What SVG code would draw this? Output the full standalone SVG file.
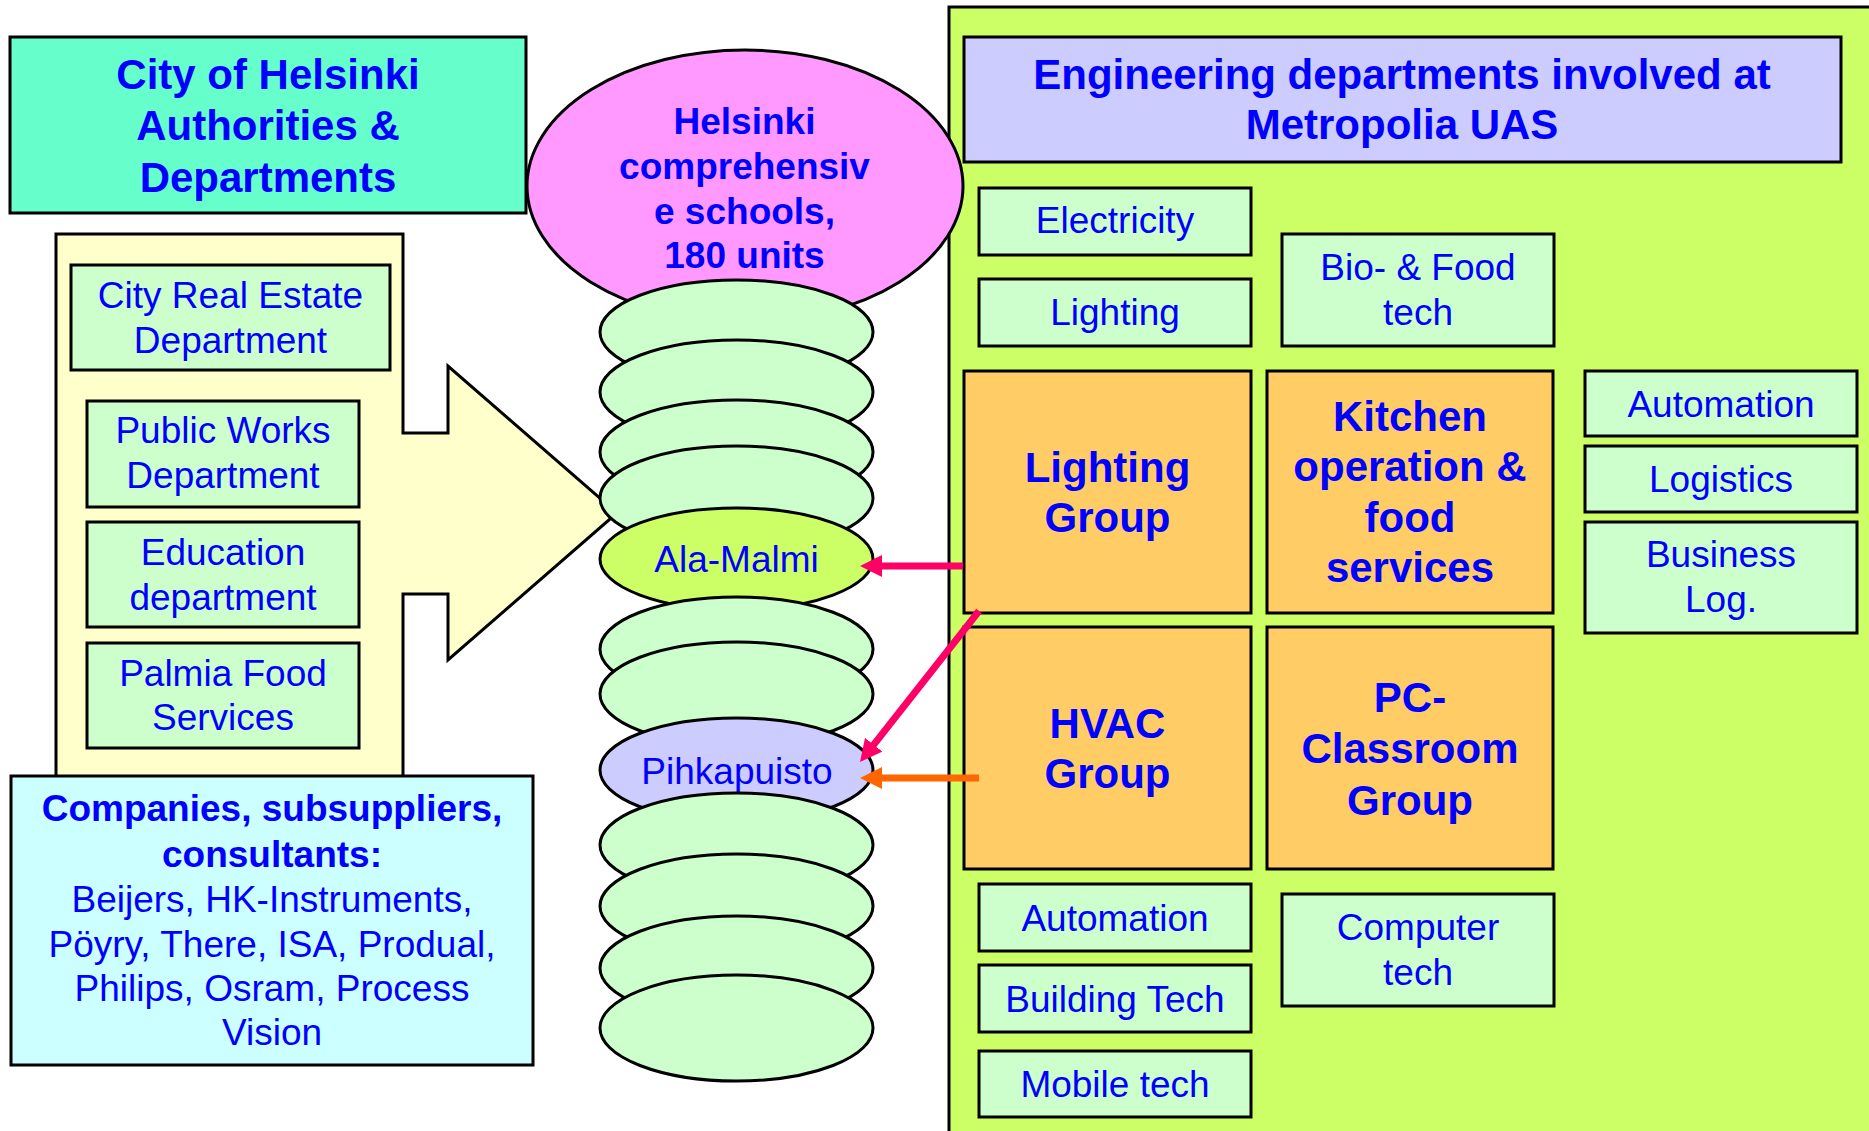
<svg xmlns="http://www.w3.org/2000/svg" width="1869" height="1131" viewBox="0 0 1869 1131">
<style>
.box{stroke:#000;stroke-width:3}
.lt{fill:#CCFFCC}
.or{fill:#FFCC66}
.el{fill:#CCFFCC;stroke:#000;stroke-width:3}
.t{font-family:"Liberation Sans",Arial,sans-serif;fill:#0000FF;text-anchor:middle}
.r{font-size:37px}
.b{font-size:37px;font-weight:bold}
.h{font-size:42px;font-weight:bold}
.conn{fill:none;stroke-width:7}
</style>
<defs>
<marker id="ah-pink" markerUnits="userSpaceOnUse" markerWidth="22" markerHeight="22" viewBox="0 0 22 22" refX="2" refY="11" orient="auto"><path d="M0,0 L22,11 L0,22 z" fill="#FF0066"/></marker>
<marker id="ah-orange" markerUnits="userSpaceOnUse" markerWidth="22" markerHeight="22" viewBox="0 0 22 22" refX="2" refY="11" orient="auto"><path d="M0,0 L22,11 L0,22 z" fill="#FF6600"/></marker>
</defs>
<rect width="1869" height="1131" fill="#fff"/>

<g id="city-arrow">
<polygon points="56,234 403,234 403,433 448,433 448,366 617,513 448,660 448,594 403,594 403,790 56,790" fill="#FFFFCC" stroke="#000" stroke-width="3"/>
</g>

<g id="city-title">
<rect class="box" x="10" y="37" width="516" height="176" fill="#66FFCC"/>
<text class="t h"><tspan x="268" y="89">City of Helsinki</tspan><tspan x="268" y="140">Authorities &amp;</tspan><tspan x="268" y="192">Departments</tspan></text>
</g>

<g id="real-estate">
<rect class="box lt" x="71" y="265" width="319" height="105"/>
<text class="t r"><tspan x="230.5" y="308">City Real Estate</tspan><tspan x="230.5" y="353">Department</tspan></text>
</g>
<g id="public-works">
<rect class="box lt" x="87" y="401" width="272" height="106"/>
<text class="t r"><tspan x="223" y="443">Public Works</tspan><tspan x="223" y="488">Department</tspan></text>
</g>
<g id="education">
<rect class="box lt" x="87" y="522" width="272" height="105"/>
<text class="t r"><tspan x="223" y="565">Education</tspan><tspan x="223" y="610">department</tspan></text>
</g>
<g id="palmia">
<rect class="box lt" x="87" y="643" width="272" height="105"/>
<text class="t r"><tspan x="223" y="686">Palmia Food</tspan><tspan x="223" y="730">Services</tspan></text>
</g>

<g id="companies">
<rect class="box" x="11" y="776" width="522" height="289" fill="#CCFFFF"/>
<text class="t b"><tspan x="272" y="821">Companies, subsuppliers,</tspan><tspan x="272" y="867">consultants:</tspan></text>
<text class="t r"><tspan x="272" y="912">Beijers, HK-Instruments,</tspan><tspan x="272" y="957">Pöyry, There, ISA, Produal,</tspan><tspan x="272" y="1001">Philips, Osram, Process</tspan><tspan x="272" y="1045">Vision</tspan></text>
</g>

<g id="metropolia-panel">
<rect x="949" y="7" width="940" height="1140" fill="#CCFF66" stroke="#000" stroke-width="3"/>
</g>
<g id="engineering-title">
<rect class="box" x="964" y="37" width="877" height="125" fill="#CCCCFF"/>
<text class="t h"><tspan x="1402" y="89">Engineering departments involved at</tspan><tspan x="1402" y="139">Metropolia UAS</tspan></text>
</g>
<g id="electricity">
<rect class="box lt" x="979" y="188" width="272" height="67"/>
<text class="t r" x="1115" y="233">Electricity</text>
</g>
<g id="lighting">
<rect class="box lt" x="979" y="279" width="272" height="67"/>
<text class="t r" x="1115" y="325">Lighting</text>
</g>
<g id="bio-food">
<rect class="box lt" x="1282" y="234" width="272" height="112"/>
<text class="t r"><tspan x="1418" y="280">Bio- &amp; Food</tspan><tspan x="1418" y="325">tech</tspan></text>
</g>
<g id="lighting-group">
<rect class="box or" x="964" y="371" width="287" height="242"/>
<text class="t h"><tspan x="1107.5" y="482">Lighting</tspan><tspan x="1107.5" y="532">Group</tspan></text>
</g>
<g id="kitchen">
<rect class="box or" x="1267" y="371" width="286" height="242"/>
<text class="t h"><tspan x="1410" y="431">Kitchen</tspan><tspan x="1410" y="481">operation &amp;</tspan><tspan x="1410" y="532">food</tspan><tspan x="1410" y="582">services</tspan></text>
</g>
<g id="automation-r">
<rect class="box lt" x="1585" y="371" width="272" height="65"/>
<text class="t r" x="1721" y="417">Automation</text>
</g>
<g id="logistics">
<rect class="box lt" x="1585" y="446" width="272" height="66"/>
<text class="t r" x="1721" y="492">Logistics</text>
</g>
<g id="business-log">
<rect class="box lt" x="1585" y="522" width="272" height="111"/>
<text class="t r"><tspan x="1721" y="567">Business</tspan><tspan x="1721" y="612">Log.</tspan></text>
</g>
<g id="hvac-group">
<rect class="box or" x="964" y="627" width="287" height="242"/>
<text class="t h"><tspan x="1107.5" y="738">HVAC</tspan><tspan x="1107.5" y="788">Group</tspan></text>
</g>
<g id="pc-classroom">
<rect class="box or" x="1267" y="627" width="286" height="242"/>
<text class="t h"><tspan x="1410" y="712">PC-</tspan><tspan x="1410" y="763">Classroom</tspan><tspan x="1410" y="815">Group</tspan></text>
</g>
<g id="automation-b">
<rect class="box lt" x="979" y="884" width="272" height="67"/>
<text class="t r" x="1115" y="931">Automation</text>
</g>
<g id="building-tech">
<rect class="box lt" x="979" y="965" width="272" height="67"/>
<text class="t r" x="1115" y="1012">Building Tech</text>
</g>
<g id="mobile-tech">
<rect class="box lt" x="979" y="1051" width="272" height="66"/>
<text class="t r" x="1115" y="1097">Mobile tech</text>
</g>
<g id="computer-tech">
<rect class="box lt" x="1282" y="894" width="272" height="112"/>
<text class="t r"><tspan x="1418" y="940">Computer</tspan><tspan x="1418" y="985">tech</tspan></text>
</g>

<g id="schools">
<ellipse cx="745" cy="186" rx="218" ry="136" fill="#FF99FF" stroke="#000" stroke-width="3"/>
<text class="t b"><tspan x="744.5" y="134">Helsinki</tspan><tspan x="744.5" y="179">comprehensiv</tspan><tspan x="744.5" y="224">e schools,</tspan><tspan x="744.5" y="268">180 units</tspan></text>
</g>
<g id="school-1"><ellipse class="el" cx="736.5" cy="332" rx="136.5" ry="52"/></g>
<g id="school-2"><ellipse class="el" cx="736.5" cy="392" rx="136.5" ry="52"/></g>
<g id="school-3"><ellipse class="el" cx="736.5" cy="452" rx="136.5" ry="52"/></g>
<g id="school-4"><ellipse class="el" cx="736.5" cy="498" rx="136.5" ry="52"/></g>
<g id="ala-malmi">
<ellipse class="el" cx="736.5" cy="559" rx="136.5" ry="51" style="fill:#CCFF66"/>
<text class="t r" x="736.5" y="572">Ala-Malmi</text>
</g>
<g id="school-5"><ellipse class="el" cx="736.5" cy="649" rx="136.5" ry="52"/></g>
<g id="school-6"><ellipse class="el" cx="736.5" cy="694" rx="136.5" ry="52"/></g>
<g id="pihkapuisto">
<ellipse class="el" cx="736.5" cy="770" rx="136.5" ry="52" style="fill:#CCCCFF"/>
<text class="t r" x="737" y="784">Pihkapuisto</text>
</g>
<g id="school-7"><ellipse class="el" cx="736.5" cy="845" rx="136.5" ry="52"/></g>
<g id="school-8"><ellipse class="el" cx="736.5" cy="906" rx="136.5" ry="52"/></g>
<g id="school-9"><ellipse class="el" cx="736.5" cy="968" rx="136.5" ry="52"/></g>
<g id="school-10"><ellipse class="el" cx="736.5" cy="1028" rx="136.5" ry="53"/></g>

<g id="connectors">
<path class="conn" d="M963,566 H880" stroke="#FF0066" marker-end="url(#ah-pink)"/>
<path class="conn" d="M979,611 L872.4,746.3" stroke="#FF0066" marker-end="url(#ah-pink)"/>
<path class="conn" d="M979,778 H880" stroke="#FF6600" marker-end="url(#ah-orange)"/>
</g>
</svg>
